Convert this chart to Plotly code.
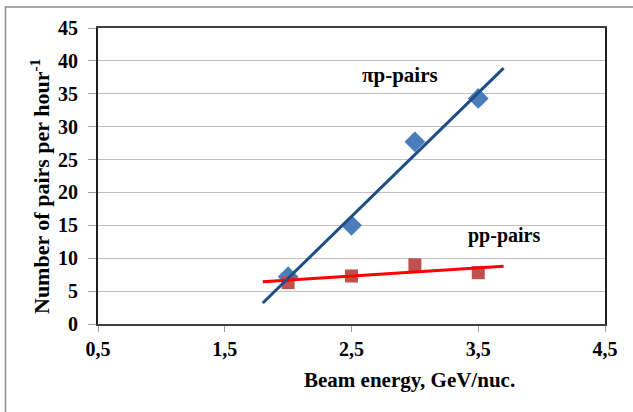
import numpy as np
import plotly.graph_objects as go

# Data
energy = [2.0, 2.5, 3.0, 3.5]
pi_p_pairs = [7.2, 15.0, 27.7, 34.3]
pp_pairs = [6.3, 7.3, 9.0, 7.8]
trend_range = [1.8, 3.7]          # trendline forecast extent
x_ticks = [0.5, 1.5, 2.5, 3.5, 4.5]
y_ticks = list(range(0, 50, 5))

def linear_trend(x, y, xr):
    k, b = np.polyfit(x, y, 1)
    xr = np.array(xr)
    return xr, k * xr + b

fig = go.Figure()
fig.add_trace(go.Scatter(x=energy, y=pi_p_pairs, mode="markers",
                         marker=dict(symbol="diamond", size=16, color="#4a7ebb"),
                         showlegend=False))
fig.add_trace(go.Scatter(x=energy, y=pp_pairs, mode="markers",
                         marker=dict(symbol="square", size=13, color="#c0504d"),
                         showlegend=False))
tx, ty = linear_trend(energy, pp_pairs, trend_range)
fig.add_trace(go.Scatter(x=tx, y=ty, mode="lines",
                         line=dict(color="#ff0000", width=3), showlegend=False))
tx, ty = linear_trend(energy, pi_p_pairs, trend_range)
fig.add_trace(go.Scatter(x=tx, y=ty, mode="lines",
                         line=dict(color="#1f4e86", width=3), showlegend=False))

font = "Liberation Serif"
# plot area in page pixels
L, R, T, B = 98, 605, 28, 324
W, H = 633, 412
PW, PH = R - L, B - T

def px(x):
    return (x - L) / PW

def py(y):
    return (B - y) / PH

fig.update_layout(
    width=W, height=H,
    margin=dict(l=L, r=W - R, t=T, b=H - B),
    paper_bgcolor="white", plot_bgcolor="white",
    separators=", ",
    font=dict(family=font, size=20, color="black"),
    xaxis=dict(range=[0.5, 4.5], tickvals=x_ticks, tickformat=".1f",
               showgrid=False, zeroline=False,
               showline=True, linecolor="#404040", linewidth=2, mirror=True,
               ticks="outside", ticklen=6, tickcolor="#a0a0a0",
               tickfont=dict(family=font, size=20, weight="bold")),
    yaxis=dict(range=[0, 45], tickvals=y_ticks,
               showgrid=True, gridcolor="#c0c0c0", gridwidth=1, zeroline=False,
               showline=True, linecolor="#202020", linewidth=2, mirror=True,
               ticks="outside", ticklen=8, tickcolor="#a0a0a0",
               ticklabelstandoff=6,
               tickfont=dict(family=font, size=20, weight="bold")),
    annotations=[
        dict(x=2.88, y=37.8, xref="x", yref="y", text="<b>πp-pairs</b>",
             showarrow=False, font=dict(family=font, size=21)),
        dict(x=3.70, y=13.4, xref="x", yref="y", text="<b>pp-pairs</b>",
             showarrow=False, font=dict(family=font, size=20)),
        dict(x=px(409), y=py(380), xref="paper", yref="paper",
             xanchor="center", yanchor="middle",
             text="<b>Beam energy, GeV/nuc.</b>", showarrow=False,
             font=dict(family=font, size=21)),
        dict(x=px(40), y=py(187), xref="paper", yref="paper",
             xanchor="center", yanchor="middle", textangle=-90,
             text="<b>Number of pairs per hour<sup>-1</sup></b>", showarrow=False,
             font=dict(family=font, size=22)),
    ],
    shapes=[dict(type="rect", xref="paper", yref="paper",
                 x0=px(5.5), x1=px(645), y0=py(420), y1=py(7),
                 line=dict(color="#8c8c8c", width=1.5), layer="below")],
)

fig.write_html("out.html",
               config={"displayModeBar": False},
               post_script="document.body.style.margin='0px';")
